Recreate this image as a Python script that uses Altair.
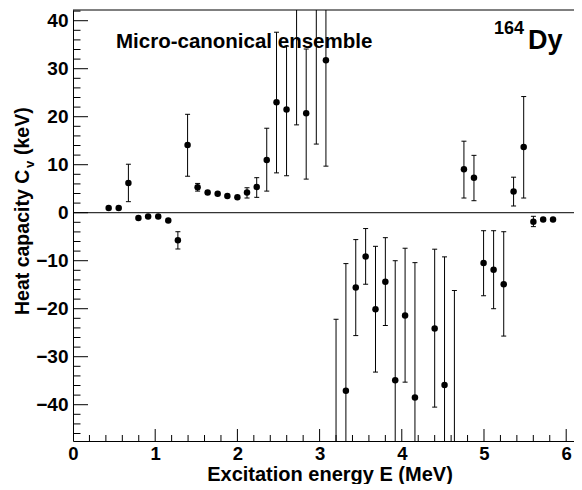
import altair as alt
import pandas as pd

# ---- data ----
energy = [0.434, 0.556, 0.674, 0.796, 0.914, 1.037, 1.159, 1.276, 1.394, 1.516,
          1.638, 1.760, 1.878, 2.000, 2.117, 2.235, 2.357, 2.476, 2.598, 2.720,
          2.837, 2.960, 3.077, 3.200, 3.320, 3.440, 3.560, 3.680, 3.800, 3.920,
          4.040, 4.160, 4.400, 4.520, 4.640, 4.756, 4.878, 4.995, 5.117, 5.240,
          5.360, 5.483, 5.601, 5.720, 5.840]
heat_cap = [1.0, 1.0, 6.2, -1.1, -0.8, -0.8, -1.6, -5.75, 14.1, 5.3,
            4.2, 3.96, 3.5, 3.2, 4.2, 5.35, 11.0, 23.0, 21.5, 52.0,
            20.7, 60.0, 31.75, -60.0, -37.1, -15.6, -9.1, -20.1, -14.4, -34.9,
            -21.4, -38.5, -24.1, -35.9, -55.0, 9.04, 7.3, -10.5, -11.9, -14.9,
            4.4, 13.7, -1.9, -1.4, -1.4]
err_low = [None, None, 2.3, None, None, None, None, -7.56, 7.6, 4.5,
           None, None, None, None, 3.06, 3.2, 4.5, 8.3, 7.7, 18.3,
           7.0, 14.3, 9.7, -95.0, -64.0, -25.6, -14.9, -33.2, -23.5, -60.0,
           -35.3, -66.0, -40.5, -62.0, -94.0, 3.06, 2.5, -17.3, -20.0, -25.7,
           1.4, 3.06, -2.9, None, None]
err_high = [None, None, 10.1, None, None, None, None, -3.96, 20.5, 6.1,
            None, None, None, None, 5.2, 7.3, 17.6, 37.6, 34.7, 86.0,
            34.1, 106.0, 54.0, -22.2, -10.6, -5.6, -3.3, -7.0, -5.2, -10.0,
            -7.4, -10.4, -7.6, -9.2, -16.2, 14.9, 11.95, -3.75, -3.75, -3.96,
            7.4, 24.2, -0.75, None, None]

x_major = [0, 1, 2, 3, 4, 5, 6]
x_minor = [0.2, 0.4, 0.6, 0.8, 1.2, 1.4, 1.6, 1.8, 2.2, 2.4, 2.6, 2.8,
           3.2, 3.4, 3.6, 3.8, 4.2, 4.4, 4.6, 4.8, 5.2, 5.4, 5.6, 5.8]
y_major = [-40, -30, -20, -10, 0, 10, 20, 30, 40]
y_minor = [-46, -44, -42, -38, -36, -34, -32, -28, -26, -24, -22, -18, -16, -14,
           -12, -8, -6, -4, -2, 2, 4, 6, 8, 12, 14, 16, 18, 22, 24, 26, 28,
           32, 34, 36, 38, 42]

W, H = 501, 431
FONT = "Liberation Sans"

pts = pd.DataFrame({"E": energy, "Cv": heat_cap})
errs = pd.DataFrame({"E": energy, "lo": err_low, "hi": err_high}).dropna()

xs = alt.Scale(domain=[0, 6.095], nice=False, zero=False)
ys = alt.Scale(domain=[-47.56, 42.23], nice=False, zero=False)

xaxis = alt.Axis(values=x_major, ticks=False, grid=False, labelPadding=3,
                 labelFontSize=18.5, labelFont=FONT, labelFontWeight="bold",
                 labelColor="black", domainColor="black", domainWidth=1,
                 format="d", labelFlush=False)
yaxis = alt.Axis(values=y_major, ticks=False, grid=False, labelPadding=5,
                 labelFontSize=19, labelFont=FONT, labelFontWeight="bold",
                 labelColor="black", domainColor="black", domainWidth=1,
                 format="d", labelFlush=False)

X = lambda f: alt.X(f, scale=xs, axis=xaxis, title=None)
Y = lambda f: alt.Y(f, scale=ys, axis=yaxis, title=None)

bars = alt.Chart(errs).mark_rule(color="black", strokeWidth=1, clip=True).encode(
    x=X("E:Q"), y=Y("lo:Q"), y2="hi:Q",
)
caps = alt.Chart(errs).transform_fold(["lo", "hi"], as_=["k", "v"]).mark_tick(
    color="black", thickness=1, size=5, orient="horizontal", clip=True, opacity=1
).encode(x=X("E:Q"), y=Y("v:Q"))
dots = alt.Chart(pts).mark_circle(color="black", size=42, opacity=1, clip=True).encode(
    x=X("E:Q"), y=Y("Cv:Q"),
)
zero = alt.Chart(pd.DataFrame({"z": [0]})).mark_rule(color="black", strokeWidth=1).encode(
    y=Y("z:Q")
)
top_frame = alt.Chart(pd.DataFrame({"z": [0]})).mark_rule(color="black", strokeWidth=1).encode(
    y=alt.value(0), x=alt.value(0), x2=alt.value(W)
)

def xticks(vals, length):
    return alt.Chart(pd.DataFrame({"t": vals})).mark_rule(color="black", strokeWidth=1, clip=True).encode(
        x=X("t:Q"), y=alt.value(H), y2=alt.value(H - length))

def yticks(vals, length):
    return alt.Chart(pd.DataFrame({"t": vals})).mark_rule(color="black", strokeWidth=1, clip=True).encode(
        y=Y("t:Q"), x=alt.value(0), x2=alt.value(length))

def label(text, x, y, size, align="left", angle=0):
    return alt.Chart(pd.DataFrame({"s": [text]})).mark_text(
        font=FONT, fontWeight="bold", fontSize=size, color="black",
        align=align, baseline="alphabetic", angle=angle
    ).encode(x=alt.value(x), y=alt.value(y), text="s:N")

layers = [
    bars, caps, dots, zero, top_frame,
    xticks(x_major, 12), xticks(x_minor, 6),
    yticks(y_major, 15), yticks(y_minor, 7.5),
    label("Micro-canonical ensemble", 43, 37.7, 20.5),
    label("Dy", 455, 39, 27),
    label("164", 451, 23.5, 18, align="right"),
    label("Excitation energy E (MeV)", 257, 471, 20, align="center"),
    label("Heat capacity C", -44, 305, 19.5, angle=270),
    label("v", -39, 158, 13, angle=270),
    label("(keV)", -44, 145, 19.5, angle=270),
]

chart = alt.layer(*layers).properties(
    width=W, height=H,
    autosize=alt.AutoSizeParams(type="none"),
    padding={"left": 65, "top": 2, "right": 0, "bottom": 43},
    background="white",
).configure_view(stroke="transparent", strokeWidth=0)

chart.save("out.html", embed_options={"renderer": "svg", "actions": False})
